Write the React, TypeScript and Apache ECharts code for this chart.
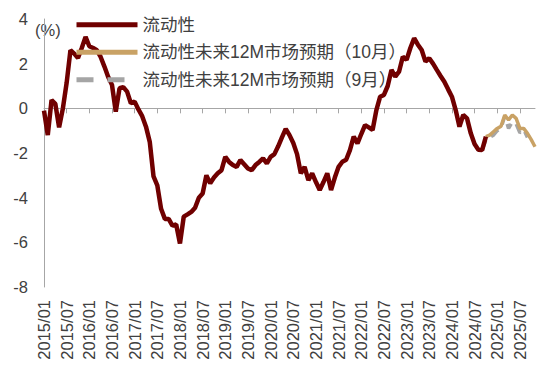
import React, { useEffect, useRef } from "react";
import * as echarts from "echarts";

// monthly categories 2015/01 .. 2025/11
const startYear = 2015;
const monthCount = 131;
const months: string[] = [];
for (let k = 0; k < monthCount; k++) {
  const y = startYear + Math.floor(k / 12);
  const m = (k % 12) + 1;
  months.push(`${y}/${m < 10 ? "0" + m : m}`);
}

const yTicks = [-8, -6, -4, -2, 0, 2, 4];

// 流动性 2015/01 .. 2024/10
const liquidity = [
  -0.1, -1.2, 0.37, 0.2, -0.85, 0.0, 1.15, 2.6, 2.45, 2.25, 2.7, 3.2,
  2.78, 2.7, 2.6, 2.3, 1.87, 1.4, 1.05, -0.15, 0.9, 0.95, 0.75, 0.23,
  0.3, -0.05, -0.35, -0.82, -1.5, -3.05, -3.45, -4.5, -4.95, -4.95, -5.25, -5.2,
  -6.05, -4.85, -4.75, -4.64, -4.45, -4.0, -3.81, -3.0, -3.36, -3.1, -2.91, -2.77,
  -2.17, -2.4, -2.54, -2.62, -2.32, -2.5, -2.69, -2.77, -2.54, -2.4, -2.24, -2.47,
  -2.17, -2.05, -1.7, -1.3, -0.92, -1.2, -1.55, -2.05, -2.91, -2.62, -3.22, -2.91,
  -3.3, -3.66, -3.3, -2.91, -3.66, -3.1, -2.62, -2.39, -2.3, -1.87, -1.27, -1.57,
  -1.15, -0.75, -0.85, -0.97, -0.08, 0.52, 0.6, 1.0, 1.72, 1.42, 1.64, 2.31,
  2.17, 2.7, 3.14, 2.85, 2.61, 2.09, 2.24, 2.0, 1.72, 1.45, 1.19, 0.85,
  0.52, -0.08, -0.82, -0.3, -0.45, -1.12, -1.6, -1.85, -1.87, -1.27,
];
const liquidityStart = "2015/01";

// 流动性未来12M市场预期（10月） 2024/10 ..
const forecastOct = [-1.27, -1.2, -1.05, -0.9, -0.8, -0.3, -0.52, -0.3, -0.45, -0.9, -0.9, -1.12, -1.4, -1.72];
const forecastOctStart = "2024/10";

// 流动性未来12M市场预期（9月） 2024/09 ..
const forecastSep = [-1.87, -1.42, -1.3, -1.2, -1.0, -0.9, -0.35, -0.9, -0.6, -0.7, -1.1, -0.95, -1.3];
const forecastSepStart = "2024/09";

const NAME_MAIN = "流动性";
const NAME_OCT = "流动性未来12M市场预期（10月）";
const NAME_SEP = "流动性未来12M市场预期（9月）";

function toSeries(values: number[], start: string) {
  const s = months.indexOf(start);
  return values.map((v, k) => [months[s + k], v]);
}

const FONT = "'Liberation Sans', Arial, 'Noto Sans CJK SC', sans-serif";
const TEXT = "#404040";
const AXIS = "#A6A6A6";

export default function App() {
  const ref = useRef<HTMLDivElement>(null);
  useEffect(() => {
    document.body.style.margin = "0";
    const chart = echarts.init(ref.current!, null, { renderer: "svg" });
    chart.setOption({
      animation: false,
      backgroundColor: "#ffffff",
      grid: { left: 44, right: 15, top: 19, bottom: 84 },
      legend: {
        orient: "vertical",
        left: 74,
        top: 16,
        padding: 0,
        itemWidth: 61,
        itemHeight: 18,
        itemGap: 10,
        textStyle: { fontSize: 17.5, color: TEXT, fontFamily: FONT },
        lineStyle: { width: 5 },
        itemStyle: { opacity: 0 },
        data: [
          { name: NAME_MAIN },
          { name: NAME_OCT },
          { name: NAME_SEP, lineStyle: { type: [17, 14], width: 5 } },
        ],
      },
      graphic: [
        {
          type: "text",
          left: 35,
          top: 22,
          style: { text: "(%)", fontSize: 16.5, fill: TEXT, fontFamily: FONT },
        },
      ],
      xAxis: [
        {
          type: "category",
          data: months,
          boundaryGap: false,
          axisLine: { show: false, onZero: false },
          axisTick: { show: false },
          axisLabel: {
            interval: (index: number) => index % 6 === 0,
            rotate: 90,
            margin: 13,
            fontSize: 16.5,
            color: TEXT,
            fontFamily: FONT,
          },
          splitLine: { show: false },
        },
        {
          type: "category",
          data: months,
          boundaryGap: false,
          position: "top",
          axisLine: { show: true, onZero: true, lineStyle: { color: AXIS, width: 1 } },
          axisTick: { show: true, inside: true, length: 5, interval: 5, lineStyle: { color: AXIS } },
          axisLabel: { show: false },
          splitLine: { show: false },
        },
      ],
      yAxis: {
        type: "value",
        min: yTicks[0],
        max: yTicks[yTicks.length - 1],
        interval: 2,
        axisLine: { show: true, lineStyle: { color: AXIS, width: 1 } },
        axisTick: { show: false },
        splitLine: { show: false },
        axisLabel: { margin: 16, fontSize: 16.5, color: TEXT, fontFamily: FONT },
      },
      series: [
        {
          name: NAME_SEP,
          type: "line",
          data: toSeries(forecastSep, forecastSepStart),
          symbol: "none",
          lineStyle: { color: "#A5A5A5", width: 3.5, type: [10, 7] },
          itemStyle: { color: "#A5A5A5" },
        },
        {
          name: NAME_OCT,
          type: "line",
          data: toSeries(forecastOct, forecastOctStart),
          symbol: "none",
          lineStyle: { color: "#C9A265", width: 3.5 },
          itemStyle: { color: "#C9A265" },
        },
        {
          name: NAME_MAIN,
          type: "line",
          data: toSeries(liquidity, liquidityStart),
          symbol: "none",
          lineStyle: { color: "#700000", width: 4.5 },
          itemStyle: { color: "#700000" },
        },
      ],
    });
    return () => chart.dispose();
  }, []);
  return (
    <div
      ref={ref}
      style={{ width: 550, height: 371, position: "absolute", left: 0, top: 0 }}
    />
  );
}
